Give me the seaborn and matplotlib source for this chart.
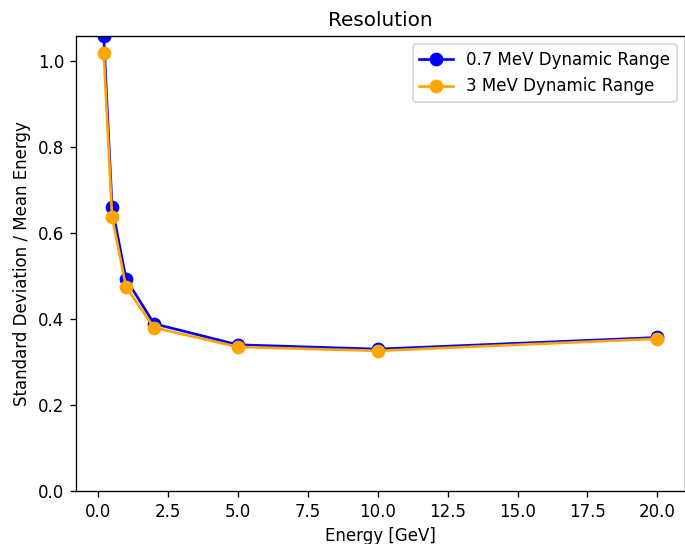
import matplotlib
matplotlib.use("Agg")
import matplotlib.pyplot as plt
import seaborn as sns
import pandas as pd

# Beam energies and relative resolution for the two dynamic-range settings
energy_gev = [0.2, 0.5, 1, 2, 5, 10, 20]
res_07mev = [1.058, 0.660, 0.493, 0.389, 0.340, 0.330, 0.357]
res_3mev = [1.019, 0.637, 0.474, 0.380, 0.335, 0.326, 0.354]
series_labels = ["0.7 MeV Dynamic Range", "3 MeV Dynamic Range"]
series_colors = ["blue", "orange"]

df = pd.concat([
    pd.DataFrame({"energy": energy_gev, "res": res_07mev, "setting": series_labels[0]}),
    pd.DataFrame({"energy": energy_gev, "res": res_3mev, "setting": series_labels[1]}),
])

fig = plt.figure(figsize=(685 / 120, 544 / 120), dpi=120)
ax = fig.add_axes([0.111, 0.0974, 0.889, 0.8364])

for label, color in zip(series_labels, series_colors):
    sub = df[df["setting"] == label]
    sns.lineplot(data=sub, x="energy", y="res", ax=ax, color=color,
                 marker="o", markeredgecolor=color, label=label, linewidth=1.6,
                 markersize=7.5)

ax.set_ylim(0, 1.058)
ax.set_title("Resolution")
ax.set_xlabel("Energy [GeV]")
ax.set_ylabel("Standard Deviation / Mean Energy")
ax.legend(loc="upper right")

fig.savefig("out.png", dpi=120)
